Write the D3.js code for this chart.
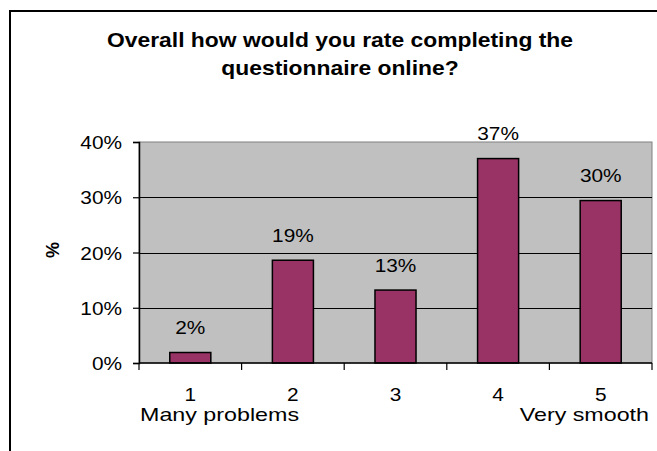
<!DOCTYPE html>
<html>
<head>
<meta charset="utf-8">
<script src="https://cdn.jsdelivr.net/npm/d3@7"></script>
<style>
  html, body { margin: 0; padding: 0; background: #fff; }
  svg { display: block; }
  text { font-family: "Liberation Sans", Arial, sans-serif; fill: #000; }
</style>
</head>
<body>
<svg id="chart" width="657" height="451"></svg>
<script>
// ---- data ----
const categories = ["1", "2", "3", "4", "5"];
const subLabels = ["Many problems", "", "", "", "Very smooth"];
const values = [0.019, 0.186, 0.132, 0.370, 0.294];
const valueLabels = ["2%", "19%", "13%", "37%", "30%"];
const yTicks = [0, 0.1, 0.2, 0.3, 0.4];
const yTickLabels = ["0%", "10%", "20%", "30%", "40%"];
const titleLines = ["Overall how would you rate completing the", "questionnaire online?"];
const yAxisTitle = "%";

// ---- layout ----
const svg = d3.select("#chart");
const plot = { left: 139, right: 652, top: 142, bottom: 363 };
const sxNum = 1.19, sxWord = 1.33, sxTitle = 1.115;

// outer chart border
svg.append("rect").attr("x", 10).attr("y", 11).attr("width", 700).attr("height", 500)
  .attr("fill", "#fff").attr("stroke", "#000").attr("stroke-width", 2);

const x = d3.scaleBand().domain(categories).range([plot.left, plot.right])
  .paddingInner(0.6).paddingOuter(0.3);
const y = d3.scaleLinear().domain([0, 0.4]).range([plot.bottom, plot.top]);

// plot area
svg.append("rect").attr("x", plot.left).attr("y", plot.top)
  .attr("width", plot.right - plot.left).attr("height", plot.bottom - plot.top)
  .attr("fill", "#c0c0c0").attr("stroke", "#808080").attr("stroke-width", 1);

// gridlines
svg.append("g").selectAll("line").data(yTicks.filter(t => t > 0 && t < 0.4)).join("line")
  .attr("x1", plot.left).attr("x2", plot.right)
  .attr("y1", d => Math.round(y(d)) + 0.5).attr("y2", d => Math.round(y(d)) + 0.5)
  .attr("stroke", "#000").attr("stroke-width", 1);

// bars
svg.append("g").selectAll("rect").data(values).join("rect")
  .attr("x", (d, i) => x(categories[i]))
  .attr("y", d => y(d))
  .attr("width", x.bandwidth())
  .attr("height", d => y(0) - y(d))
  .attr("fill", "#993366").attr("stroke", "#000").attr("stroke-width", 1.5);

// y axis
const yAxis = d3.axisLeft(y).tickValues(yTicks).tickSize(6).tickPadding(0)
  .tickFormat((d, i) => yTickLabels[i]);
const gy = svg.append("g").attr("transform", `translate(${plot.left},0)`).call(yAxis);
gy.select(".domain").attr("stroke", "#000").attr("stroke-width", 1.5);
gy.selectAll(".tick line").attr("stroke", "#000").attr("stroke-width", 1.2);
gy.selectAll(".tick text").remove();
gy.selectAll(".tick").append("text")
  .attr("transform", `translate(-17,6.5) scale(${sxNum},1)`)
  .attr("text-anchor", "end").attr("font-size", 17.5)
  .text((d, i) => yTickLabels[i]);

// x axis (ticks at band boundaries)
const gx = svg.append("g");
gx.append("line").attr("x1", plot.left).attr("x2", plot.right)
  .attr("y1", plot.bottom).attr("y2", plot.bottom)
  .attr("stroke", "#000").attr("stroke-width", 1.5);
gx.selectAll("line.tk").data(d3.range(categories.length + 1)).join("line").attr("class", "tk")
  .attr("x1", i => plot.left + i * x.step()).attr("x2", i => plot.left + i * x.step())
  .attr("y1", plot.bottom).attr("y2", plot.bottom + 7)
  .attr("stroke", "#000").attr("stroke-width", 1.2);

// category labels
svg.append("g").selectAll("text").data(categories).join("text")
  .attr("transform", d => `translate(${x(d) + x.bandwidth() / 2},401) scale(${sxNum},1)`)
  .attr("text-anchor", "middle").attr("font-size", 17.5)
  .text(d => d);

svg.append("g").selectAll("text").data(subLabels).join("text")
  .attr("transform", (d, i) => {
    const px = i === 0 ? plot.left + 1 : plot.right - 3;
    return `translate(${px},421) scale(${sxWord},1)`;
  })
  .attr("text-anchor", (d, i) => i === 0 ? "start" : "end")
  .attr("font-size", 17.5)
  .text(d => d);

// value labels
svg.append("g").selectAll("text").data(values).join("text")
  .attr("transform", (d, i) => `translate(${x(categories[i]) + x.bandwidth() / 2},${y(d) - 18.5}) scale(${sxNum},1)`)
  .attr("text-anchor", "middle").attr("font-size", 17.5)
  .text((d, i) => valueLabels[i]);

// y axis title
svg.append("text")
  .attr("transform", "translate(59,250) rotate(-90)")
  .attr("text-anchor", "middle").attr("font-size", 18).attr("font-weight", "bold")
  .text(yAxisTitle);

// title
svg.append("g").selectAll("text").data(titleLines).join("text")
  .attr("transform", (d, i) => `translate(340,${46.7 + i * 28}) scale(${sxTitle},1)`)
  .attr("text-anchor", "middle").attr("font-size", 20.5).attr("font-weight", "bold")
  .text(d => d);
</script>
</body>
</html>
